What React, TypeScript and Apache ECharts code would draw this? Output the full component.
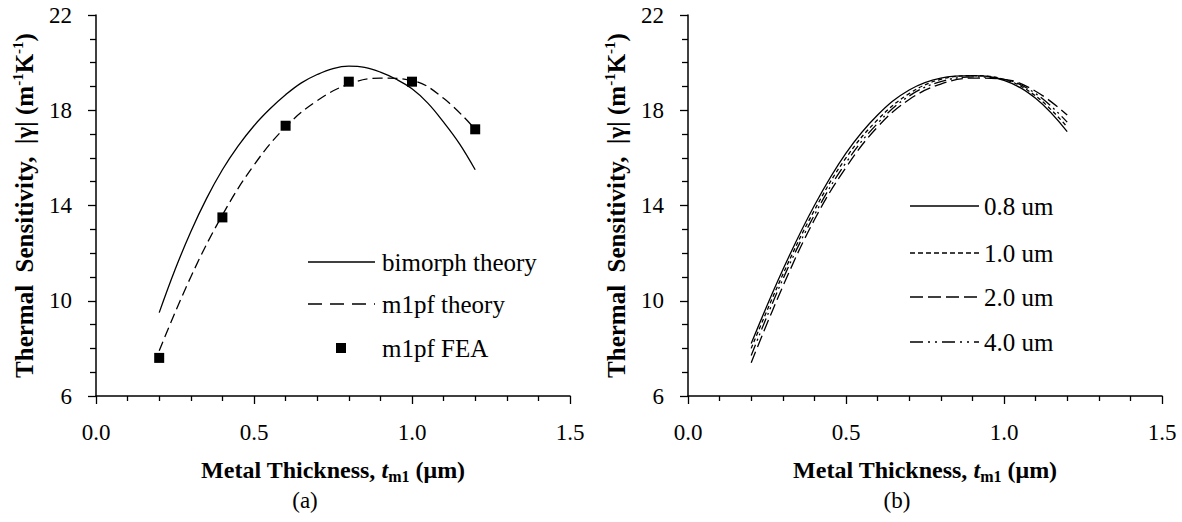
import React, { useEffect, useRef } from "react";
import * as echarts from "echarts";

// ---- Data ----
const bimorphX = [0.2, 0.25, 0.3, 0.35, 0.4, 0.45, 0.5, 0.55, 0.6, 0.65, 0.7, 0.75, 0.8, 0.85, 0.9, 0.95, 1.0, 1.05, 1.1, 1.15, 1.2];
const bimorphY = [9.5, 11.3, 12.9, 14.3, 15.5, 16.5, 17.35, 18.05, 18.65, 19.15, 19.5, 19.75, 19.85, 19.8, 19.6, 19.3, 18.9, 18.3, 17.5, 16.6, 15.5];

const m1pfX = [0.2, 0.3, 0.4, 0.5, 0.6, 0.7, 0.8, 0.9, 1.0, 1.1, 1.2];
const m1pfTheoryY = [7.9, 11.0, 13.6, 15.7, 17.3, 18.4, 19.1, 19.35, 19.25, 18.5, 17.2];

const feaX = [0.2, 0.4, 0.6, 0.8, 1.0, 1.2];
const feaY = [7.6, 13.5, 17.35, 19.2, 19.2, 17.2];

const widthX = [0.2, 0.3, 0.4, 0.5, 0.6, 0.7, 0.8, 0.9, 1.0, 1.1, 1.2];
const w08 = [8.2, 11.3, 14.0, 16.2, 17.8, 18.85, 19.35, 19.45, 19.25, 18.5, 17.1];
const w10 = [8.0, 11.1, 13.8, 16.0, 17.6, 18.7, 19.3, 19.45, 19.3, 18.6, 17.3];
const w20 = [7.4, 10.6, 13.4, 15.6, 17.3, 18.45, 19.1, 19.35, 19.3, 18.8, 17.8];
const w40 = [7.7, 10.9, 13.6, 15.8, 17.45, 18.6, 19.2, 19.4, 19.3, 18.7, 17.5];

const leftNames = ["bimorph theory", "m1pf theory", "m1pf FEA"];
const rightNames = ["0.8 um", "1.0 um", "2.0 um", "4.0 um"];
const captions = ["(a)", "(b)"];

const xMin = 0, xMax = 1.5, xInterval = 0.5;
const yMin = 6, yMax = 22, yInterval = 4;

const FONT = "'Liberation Serif', 'Times New Roman', serif";

const zip = (xs: number[], ys: number[]) => xs.map((x, i) => [x, ys[i]]);

export default function App() {
  const ref = useRef<HTMLDivElement>(null);
  useEffect(() => {
    if (!ref.current) return;
    const chart = echarts.init(ref.current, null, { renderer: "svg" });

    const axisLine = { lineStyle: { color: "#000", width: 1.5 } };
    const mkRich = (size: number) => ({
      b: { fontFamily: FONT, fontSize: size, fontWeight: "bold", color: "#000", lineHeight: 28 },
      i: { fontFamily: FONT, fontSize: size, fontWeight: "bold", fontStyle: "italic", color: "#000", lineHeight: 28 },
      g: { fontFamily: FONT, fontSize: size, fontWeight: "bold", color: "#000", lineHeight: 28 },
      sub: { fontFamily: FONT, fontSize: Math.round(size * 0.65), fontWeight: "bold", color: "#000", lineHeight: 19, verticalAlign: "bottom" },
      s: { fontFamily: FONT, fontSize: Math.round(size * 0.6), fontWeight: "bold", color: "#000", lineHeight: 17, verticalAlign: "top" },
    });

    const makeX = (gi: number) => ({
      type: "value",
      gridIndex: gi,
      min: xMin,
      max: xMax,
      interval: xInterval,
      axisLine: { ...axisLine, onZero: false },
      axisTick: { show: true, inside: false, length: 8, lineStyle: { color: "#000", width: 1.3 } },
      minorTick: { show: true, splitNumber: 5, length: 5, lineStyle: { color: "#000", width: 1.3 } },
      splitLine: { show: false },
      minorSplitLine: { show: false },
      axisLabel: {
        formatter: (v: number) => v.toFixed(1),
        fontFamily: FONT,
        fontSize: 23,
        color: "#000",
        margin: 25,
      },
      name: "{b|Metal Thickness,}{i| t}{sub|m1}{b| (μm)}",
      nameLocation: "middle",
      nameGap: 60,
      nameTextStyle: { rich: mkRich(24) },
    });

    const makeY = (gi: number) => ({
      type: "value",
      gridIndex: gi,
      min: yMin,
      max: yMax,
      interval: yInterval,
      axisLine: { ...axisLine, onZero: false },
      axisTick: { show: true, inside: false, length: 8, lineStyle: { color: "#000", width: 1.3 } },
      minorTick: { show: true, splitNumber: 4, length: 6, lineStyle: { color: "#000", width: 1.3 } },
      splitLine: { show: false },
      minorSplitLine: { show: false },
      axisLabel: { fontFamily: FONT, fontSize: 23, color: "#000", margin: 24 },
      name: "{b|Thermal  Sensitivity,  |}{g|γ}{b|| (m}{s|-1}{b|K}{s|-1}{b|)}",
      nameLocation: "middle",
      nameGap: 58,
      nameRotate: 90,
      nameTextStyle: { rich: mkRich(25) },
    });

    const lineSeries = (name: string, xi: number, data: number[][], type: any, width = 1.3) => ({
      name,
      type: "line",
      xAxisIndex: xi,
      yAxisIndex: xi,
      data,
      smooth: 0.4,
      showSymbol: false,
      symbol: "none",
      lineStyle: { color: "#000", width, type },
    });

    const legendLine = (x1: number, x2: number, y: number, dash: number[] | null) => ({
      type: "line",
      shape: { x1, y1: y, x2, y2: y },
      style: { stroke: "#000", lineWidth: 1.3, lineDash: dash || undefined },
    });
    const legendText = (x: number, y: number, text: string) => ({
      type: "text",
      x,
      y,
      style: { text, fontFamily: FONT, fontSize: 25, fill: "#000", verticalAlign: "middle", align: "left" },
    });
    const caption = (x: number, text: string) => ({
      type: "text",
      x,
      y: 500,
      style: { text, fontFamily: FONT, fontSize: 23, fill: "#000", align: "center", verticalAlign: "middle" },
    });

    const leftRows = [262, 304, 348];
    const rightRows = [206, 253, 297, 342];

    const option: any = {
      animation: false,
      backgroundColor: "#fff",
      grid: [
        { left: 96, top: 15, width: 474, height: 381 },
        { left: 688, top: 15, width: 474, height: 381 },
      ],
      xAxis: [makeX(0), makeX(1)],
      yAxis: [makeY(0), makeY(1)],
      series: [
        lineSeries(leftNames[0], 0, zip(bimorphX, bimorphY), "solid"),
        lineSeries(leftNames[1], 0, zip(m1pfX, m1pfTheoryY), [10, 5]),
        {
          name: leftNames[2],
          type: "scatter",
          xAxisIndex: 0,
          yAxisIndex: 0,
          data: zip(feaX, feaY),
          symbol: "rect",
          symbolSize: 10,
          itemStyle: { color: "#000", opacity: 1 },
        },
        lineSeries(rightNames[0], 1, zip(widthX, w08), "solid"),
        lineSeries(rightNames[1], 1, zip(widthX, w10), [4, 3]),
        lineSeries(rightNames[2], 1, zip(widthX, w20), [12, 5]),
        lineSeries(rightNames[3], 1, zip(widthX, w40), [12, 4, 2, 4, 2, 4]),
      ],
      graphic: [
        legendLine(308, 375, leftRows[0], null),
        legendLine(308, 375, leftRows[1], [14, 8]),
        { type: "rect", shape: { x: 336, y: leftRows[2] - 5, width: 10, height: 10 }, style: { fill: "#000" } },
        legendText(382, leftRows[0], leftNames[0]),
        legendText(382, leftRows[1], leftNames[1]),
        legendText(382, leftRows[2], leftNames[2]),
        legendLine(910, 979, rightRows[0], null),
        legendLine(910, 979, rightRows[1], [5, 3]),
        legendLine(910, 979, rightRows[2], [13, 5]),
        legendLine(910, 979, rightRows[3], [13, 5, 2, 5, 2, 5]),
        legendText(984, rightRows[0], rightNames[0]),
        legendText(984, rightRows[1], rightNames[1]),
        legendText(984, rightRows[2], rightNames[2]),
        legendText(984, rightRows[3], rightNames[3]),
        caption(305, captions[0]),
        caption(897, captions[1]),
      ],
    };

    chart.setOption(option);
    return () => chart.dispose();
  }, []);

  return (
    <div
      ref={ref}
      style={{ position: "fixed", left: 0, top: 0, width: 1182, height: 522, background: "#fff" }}
    />
  );
}
